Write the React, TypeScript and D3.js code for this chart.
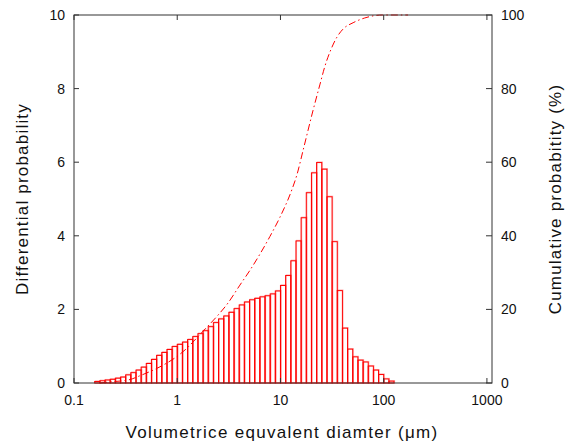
import React from "react";
import * as d3 from "d3";

// Differential probability per log-spaced bin (20 bins per decade, first bin starting at ~0.158 µm)
const BIN_FIRST_EDGE = 0.15849;
const BINS_PER_DECADE = 20;
const diffProb = [
  0.04, 0.06, 0.08, 0.10, 0.13, 0.16, 0.22, 0.28, 0.35, 0.43,
  0.53, 0.64, 0.75, 0.83, 0.91, 0.99, 1.05, 1.11, 1.18, 1.26,
  1.34, 1.42, 1.53, 1.64, 1.74, 1.82, 1.92, 2.02, 2.12, 2.20,
  2.26, 2.30, 2.34, 2.37, 2.42, 2.50, 2.65, 2.92, 3.32, 3.86,
  4.49, 5.17, 5.71, 5.99, 5.81, 5.06, 3.84, 2.51, 1.49, 0.92,
  0.71, 0.62, 0.57, 0.46, 0.35, 0.23, 0.11, 0.05,
];

// Cumulative curve
const cumDiam = [
  0.179, 0.223, 0.333, 0.455, 0.68, 0.971, 1.214, 1.517, 1.896, 2.37,
  3.097, 4.046, 5.056, 6.318, 7.898, 9.867, 12.89, 14.41, 16.59, 20.73,
  24.06, 26.9, 31.24, 34.93, 40.46, 50.56, 65.6, 97.4, 172.2,
];
const cumPct = [
  0, 0.3, 0.8, 2.2, 4.4, 7.0, 9.2, 12.0, 14.9, 17.8,
  21.7, 26.6, 30.6, 35.0, 39.8, 45.0, 52.5, 56.5, 63.3, 74.2,
  81.0, 86.0, 91.0, 93.8, 96.2, 97.9, 99.2, 100, 100,
];

const xTicks = [0.1, 1, 10, 100, 1000];
const xTickLabels = ["0.1", "1", "10", "100", "1000"];
const yLeftTicks = [0, 2, 4, 6, 8, 10];
const yRightTicks = [0, 20, 40, 60, 80, 100];

const W = 567;
const H = 444;
const L = 74, R = 492, T = 15, B = 383;
const FONT = "'Liberation Sans', Arial, Helvetica, sans-serif";
const AX = "#333";

export default function App() {
  const x = d3.scaleLog().domain([0.1, 1120]).range([L, R]);
  const yL = d3.scaleLinear().domain([0, 10]).range([B, T]);
  const yR = d3.scaleLinear().domain([0, 100]).range([B, T]);

  const bins = diffProb.map((v, i) => {
    const x0 = BIN_FIRST_EDGE * Math.pow(10, i / BINS_PER_DECADE);
    const x1 = BIN_FIRST_EDGE * Math.pow(10, (i + 1) / BINS_PER_DECADE);
    return { x0, x1, v };
  });

  const pts: [number, number][] = cumDiam.map((d, i) => [x(d), yR(cumPct[i])]);
  const line = d3.line().curve(d3.curveMonotoneX)(pts) || "";

  return (
    <svg
      width={W}
      height={H}
      style={{ position: "absolute", left: 0, top: 0, background: "#fff" }}
      fontFamily={FONT}
    >
      <rect x={0} y={0} width={W} height={H} fill="#fff" />
      {/* bars: soft shadow edge + main outline */}
      {bins.map((b, i) => (
        <rect
          key={"s" + i}
          x={x(b.x0) + 0.6}
          y={yL(b.v) - 0.6}
          width={x(b.x1) - x(b.x0)}
          height={B - yL(b.v) + 0.6}
          fill="none"
          stroke="#ff7070"
          strokeOpacity={0.6}
          strokeWidth={1}
        />
      ))}
      {bins.map((b, i) => (
        <rect
          key={i}
          x={x(b.x0)}
          y={yL(b.v)}
          width={x(b.x1) - x(b.x0)}
          height={B - yL(b.v)}
          fill="none"
          stroke="#ff0000"
          strokeWidth={1}
        />
      ))}
      {/* cumulative curve */}
      <path
        d={line}
        fill="none"
        stroke="#ff0000"
        strokeWidth={1}
        strokeDasharray="7,3,1.5,3"
      />
      {/* frame */}
      <rect x={L} y={T} width={R - L} height={B - T} fill="none" stroke={AX} strokeWidth={1} />
      {/* x ticks */}
      {xTicks.map((t, i) => (
        <g key={"xt" + i}>
          <line x1={x(t)} x2={x(t)} y1={B} y2={B - 5} stroke={AX} />
          <line x1={x(t)} x2={x(t)} y1={T} y2={T + 5} stroke={AX} />
          <text x={x(t)} y={405} fontSize={14} textAnchor="middle" fill="#111">
            {xTickLabels[i]}
          </text>
        </g>
      ))}
      {/* left y ticks */}
      {yLeftTicks.map((t) => (
        <g key={"yl" + t}>
          <line x1={L} x2={L + 5} y1={yL(t)} y2={yL(t)} stroke={AX} />
          <text x={65} y={yL(t) + 5} fontSize={14} textAnchor="end" fill="#111">
            {t}
          </text>
        </g>
      ))}
      {/* right y ticks */}
      {yRightTicks.map((t) => (
        <g key={"yr" + t}>
          <line x1={R} x2={R - 6} y1={yR(t)} y2={yR(t)} stroke={AX} />
          <text x={501} y={yR(t) + 5} fontSize={14} textAnchor="start" fill="#111">
            {t}
          </text>
        </g>
      ))}
      {/* axis labels */}
      <text x={282} y={438} fontSize={17} letterSpacing={1.3} textAnchor="middle" fill="#111">
        Volumetrice equvalent diamter (μm)
      </text>
      <text
        transform={`translate(28,${(T + B) / 2}) rotate(-90)`}
        fontSize={17}
        letterSpacing={1.2}
        textAnchor="middle"
        fill="#111"
      >
        Differential probability
      </text>
      <text
        transform={`translate(561,${(T + B) / 2}) rotate(-90)`}
        fontSize={17}
        letterSpacing={1.2}
        textAnchor="middle"
        fill="#111"
      >
        Cumulative probabitity (%)
      </text>
    </svg>
  );
}
